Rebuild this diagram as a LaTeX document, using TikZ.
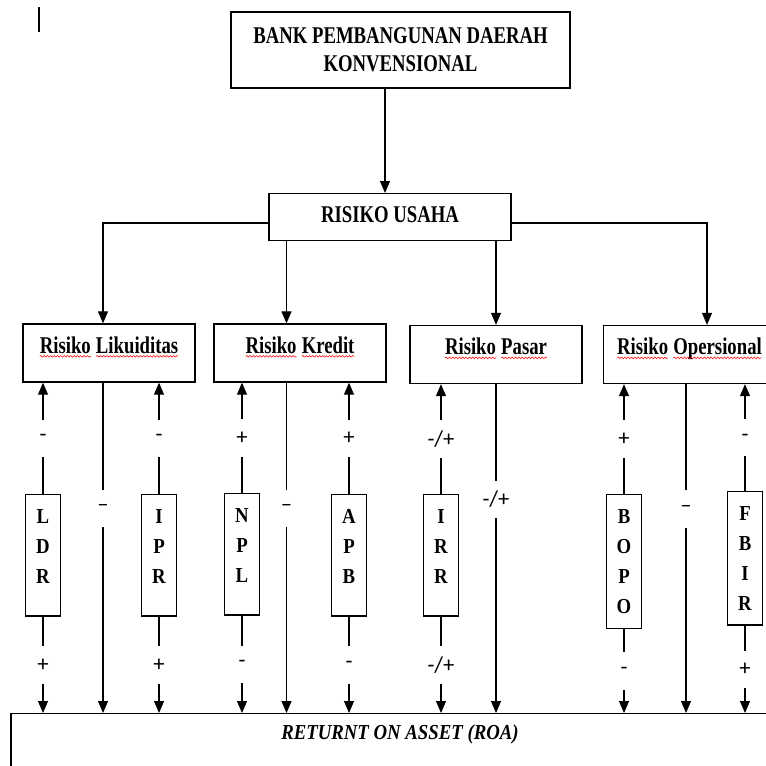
\documentclass[tikz,border=0pt]{standalone}
\usepackage{fontspec}
\setmainfont{Liberation Serif}
\newfontfamily\headfont[FakeStretch=0.78]{Liberation Serif}
\newfontfamily\lettfont[FakeStretch=0.88]{Liberation Serif}
\newfontfamily\signfont{Carlito}
\usetikzlibrary{arrows.meta, positioning, decorations.pathmorphing}

% red wavy underline under single words
\newcommand{\squig}[1]{\tikz[baseline=(w.base)]{%
  \node[draw=none, fill=none, inner sep=0pt, outer sep=0pt, minimum size=0pt,
        text height=, text depth=, anchor=base] (w) {#1};
  \draw[red, line width=0.4pt, decorate, decoration={snake, amplitude=0.6pt, segment length=2.5pt}]
    ([yshift=-2.5pt]w.base west) -- ([yshift=-2.5pt]w.base east);}}

\begin{document}
\begin{tikzpicture}[
  x=0.75pt, y=-0.75pt,
  >={Triangle[length=9pt, width=7.5pt]},
  line width=0.8pt,
  topbox/.style={draw, line width=1pt, align=center, inner sep=0pt,
                 font=\headfont\bfseries\fontsize{18}{21}\selectfont},
  riskbox/.style={draw, line width=1pt, minimum width=129pt, inner sep=0pt,
                  text height=21.75pt, text depth=21.75pt,
                  font=\headfont\bfseries\fontsize{18}{21}\selectfont},
  ratiobox/.style={draw, line width=1pt, anchor=north, minimum width=26pt,
                   inner xsep=0pt, inner ysep=11pt, align=center,
                   font=\lettfont\bfseries\fontsize{16}{22.5}\selectfont},
  signlbl/.style={fill=white, inner xsep=1pt, inner ysep=0pt, minimum height=28pt,
                  font=\signfont\fontsize{17}{17}\selectfont},
]
\useasboundingbox (0,0) rectangle (766,765);
\clip (0,0) rectangle (766,765);

% stray mark
\draw[line width=2.2pt] (39,7) -- (39,32);

% ============ Top ============
\node[topbox, minimum width=254.25pt, minimum height=57pt] (bpd) at (400.5,50)
  {BANK PEMBANGUNAN DAERAH\\KONVENSIONAL};

\node[topbox, anchor=north, minimum width=181.5pt, text height=21.75pt, text depth=13.5pt] (usaha) at (390,193)
  {RISIKO USAHA};

% arrow columns
\coordinate (xtop) at (385,0);
\coordinate (br) at (0,223);
\coordinate (xlik) at (103,0);
\coordinate (xkre) at (286.5,0);
\coordinate (xpas) at (496,0);
\coordinate (xopi) at (707,0);
\coordinate (xopm) at (686,0);

\draw[->] (bpd.south -| xtop) -- (usaha.north -| xtop);

% ============ Risk boxes ============
\node[riskbox] (lik) at (109,353) {\squig{Risiko} \squig{Likuiditas}};
\node[riskbox] (kre) at (300,353) {\squig{Risiko} \squig{Kredit}};
\node[riskbox] (pas) at (496,354.5) {\squig{Risiko} \squig{Pasar}};
\node[riskbox] (opr) at (689.5,354.5) {\squig{Risiko} \squig{Opersional}};

\draw[->] (usaha.west |- br) -| (lik.north -| xlik);
\draw[->] (usaha.south -| xkre) -- (kre.north -| xkre);
\draw[->] (usaha.south -| xpas) -- (pas.north -| xpas);
\draw[->] (usaha.east |- br) -| (opr.north -| xopi);

% ============ Bottom: ROA ============
\node[draw, line width=1pt, anchor=north, minimum width=583.5pt, inner sep=0pt,
      text height=19.5pt, text depth=30pt,
      font=\lettfont\bfseries\itshape\fontsize{16}{19}\selectfont] (roa) at (400,713)
  {RETURNT ON ASSET (ROA)};

% ============ Ratios ============
\node[ratiobox, text depth=13.5pt] (ldr) at (43,494) {L\\D\\R};
\node[ratiobox, text depth=13.5pt] (ipr) at (159,494) {I\\P\\R};
\node[ratiobox, text depth=13.5pt] (npl) at (242,493) {N\\P\\L};
\node[ratiobox, text depth=13.5pt] (apb) at (349,494) {A\\P\\B};
\node[ratiobox, text depth=13.5pt] (irr) at (441,494) {I\\R\\R};
\node[ratiobox] (bopo) at (624,494) {B\\O\\P\\O};
\node[ratiobox] (fbir) at (745,491) {F\\B\\I\\R};

% ratio -> risk
\draw[->] (ldr) -- node[signlbl]{-} (ldr |- lik.south);
\draw[->] (ipr) -- node[signlbl]{-} (ipr |- lik.south);
\draw[->] (npl) -- node[signlbl]{+} (npl |- kre.south);
\draw[->] (apb) -- node[signlbl]{+} (apb |- kre.south);
\draw[->] (irr) -- node[signlbl]{-/+} (irr |- pas.south);
\draw[->] (bopo) -- node[signlbl]{+} (bopo |- opr.south);
\draw[->] (fbir) -- node[signlbl]{-} (fbir |- opr.south);

% ratio -> ROA
\draw[->] (ldr) -- node[signlbl]{+} (ldr |- roa.north);
\draw[->] (ipr) -- node[signlbl]{+} (ipr |- roa.north);
\draw[->] (npl) -- node[signlbl]{-} (npl |- roa.north);
\draw[->] (apb) -- node[signlbl]{-} (apb |- roa.north);
\draw[->] (irr) -- node[signlbl]{-/+} (irr |- roa.north);
\draw[->] (bopo) -- node[signlbl]{-} (bopo |- roa.north);
\draw[->] (fbir) -- node[signlbl]{+} (fbir |- roa.north);

% risk -> ROA
\draw[->] (lik.south -| xlik) -- node[signlbl, pos=0.38]{\textendash} (roa.north -| xlik);
\draw[->] (kre.south -| xkre) -- node[signlbl, pos=0.38]{\textendash} (roa.north -| xkre);
\draw[->] (pas.south -| xpas) -- node[signlbl, pos=0.35]{-/+} (roa.north -| xpas);
\draw[->] (opr.south -| xopm) -- node[signlbl, pos=0.38]{\textendash} (roa.north -| xopm);

\end{tikzpicture}
\end{document}
